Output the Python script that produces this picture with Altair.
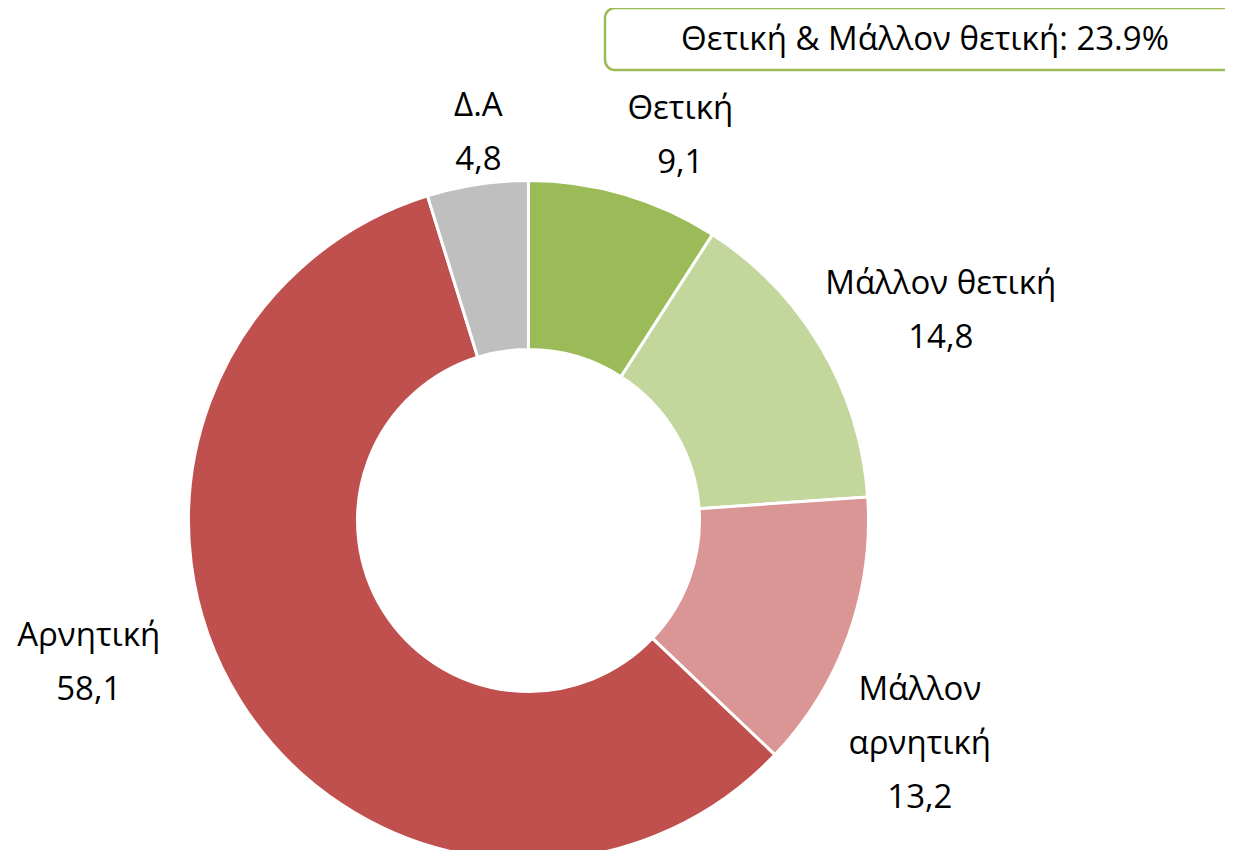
import altair as alt
import pandas as pd

categories = ["Θετική", "Μάλλον θετική", "Μάλλον αρνητική", "Αρνητική", "Δ.Α"]
label_names = ["Θετική", "Μάλλον θετική", "Μάλλον\nαρνητική", "Αρνητική", "Δ.Α"]
values = [9.1, 14.8, 13.2, 58.1, 4.8]
colors = ["#9BBB59", "#C3D69B", "#D99694", "#C0504D", "#BFBFBF"]
summary_text = "Θετική & Μάλλον θετική: 23.9%"

df = pd.DataFrame({
    "cat": categories,
    "value": values,
    "idx": list(range(len(categories))),
    "label": [n + "\n" + f"{v:.1f}".replace(".", ",") for n, v in zip(label_names, values)],
})

W, H = 1217, 842
CX, CY = 520.5, 512.5
FONT = "Open Sans"
FS = 33
theta_scale = alt.Scale(domain=[0, 100], range=[0, 6.283185307179586])

base = alt.Chart(df).transform_stack(
    stack="value", groupby=[], as_=["v0", "v1"], sort=[alt.SortField("idx", order="ascending")]
).transform_calculate(mid="(datum.v0 + datum.v1) / 2")

arcs = base.mark_arc(outerRadius=340, innerRadius=171, stroke="white", strokeWidth=3).encode(
    x=alt.value(CX), y=alt.value(CY),
    theta=alt.Theta("v0:Q", scale=theta_scale), theta2="v1:Q",
    color=alt.Color("cat:N", scale=alt.Scale(domain=categories, range=colors), legend=None),
)

# label offsets (dx, dy) of the first text line from the mid-angle anchor, per category
offsets = {
    "Θετική": (39, -28),
    "Μάλλον θετική": (68, -33),
    "Μάλλον αρνητική": (15, 34),
    "Αρνητική": (-100, -96),
    "Δ.Α": (10, -19),
}

layers = [arcs]
for c in categories:
    dx, dy = offsets[c]
    layers.append(
        base.transform_filter(alt.datum.cat == c)
        .mark_text(radius=400, fontSize=FS, font=FONT, lineBreak="\n", lineHeight=54,
                   align="center", baseline="middle", color="black", dx=dx, dy=dy)
        .encode(x=alt.value(CX), y=alt.value(CY),
                theta=alt.Theta("mid:Q", scale=theta_scale), text="label:N")
    )

box_df = pd.DataFrame({"t": [summary_text]})
box = alt.Chart(box_df).mark_rect(fill="white", stroke="#9BBB59", strokeWidth=2.5, cornerRadius=10).encode(
    x=alt.value(597), x2=alt.value(1240), y=alt.value(0), y2=alt.value(62)
)
box_text = alt.Chart(box_df).mark_text(fontSize=FS, font=FONT, color="black", align="center", baseline="middle").encode(
    x=alt.value(917), y=alt.value(32), text="t:N"
)
layers += [box, box_text]

chart = alt.layer(*layers).properties(
    width=W, height=H, padding=0, autosize=alt.AutoSizeParams(type="none")
).configure_view(stroke=None)

chart.save("out.html", embed_options={"renderer": "svg", "actions": False})
